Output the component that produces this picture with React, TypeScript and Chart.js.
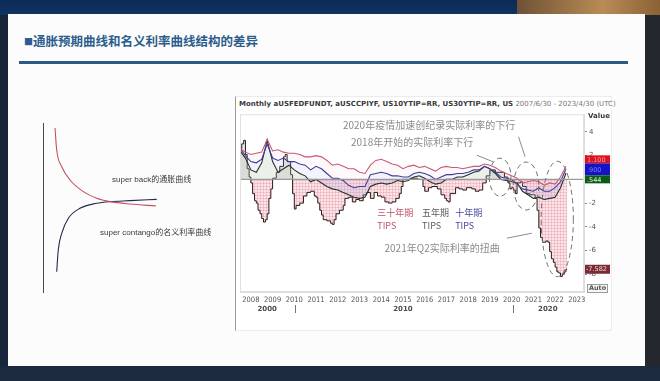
import React, { useEffect, useRef } from "react";
import { Chart, registerables } from "chart.js";

Chart.register(...registerables);

// ---------------- data ----------------
const quarterYears = [
  2007.5, 2007.75,
  2008, 2008.25, 2008.5, 2008.75,
  2009, 2009.25, 2009.5, 2009.75,
  2010, 2010.25, 2010.5, 2010.75,
  2011, 2011.25, 2011.5, 2011.75,
  2012, 2012.25, 2012.5, 2012.75,
  2013, 2013.25, 2013.5, 2013.75,
  2014, 2014.25, 2014.5, 2014.75,
  2015, 2015.25, 2015.5, 2015.75,
  2016, 2016.25, 2016.5, 2016.75,
  2017, 2017.25, 2017.5, 2017.75,
  2018, 2018.25, 2018.5, 2018.75,
  2019, 2019.25, 2019.5, 2019.75,
  2020, 2020.25, 2020.5, 2020.75,
  2021, 2021.25, 2021.5, 2021.75,
  2022, 2022.25, 2022.5,
];

// US30YTIP=RR
const tips30Values = [
  2.6, 2.3,
  2.1, 2.2, 2.3, 3.4,
  2.4, 2.5, 2.3, 2.2,
  2.2, 2.1, 1.9, 1.9,
  2.0, 1.9, 1.6, 1.2,
  1.3, 1.1, 0.9, 0.9,
  0.6, 0.5, 1.2, 1.6,
  1.7, 1.5, 1.3, 1.2,
  0.9, 1.1, 1.2, 1.0,
  1.1, 0.9, 0.7, 1.0,
  1.1, 1.0, 1.0, 0.9,
  1.0, 1.1, 1.1, 1.3,
  1.2, 1.0, 0.7, 0.5,
  0.3, 0.1, -0.3, -0.2,
  -0.1, -0.2, -0.5, -0.3,
  -0.4, 0.2, 1.1,
];

// US10YTIP=RR
const tips10Values = [
  2.6, 2.0,
  1.5, 1.4, 1.7, 3.0,
  1.8, 1.6, 1.8, 1.5,
  1.5, 1.3, 1.2, 0.8,
  1.1, 0.9, 0.5, 0.1,
  0.1, -0.1, -0.5, -0.7,
  -0.6, -0.6, 0.4, 0.5,
  0.6, 0.5, 0.3, 0.3,
  0.2, 0.2, 0.5, 0.6,
  0.5, 0.3, 0.0, 0.2,
  0.4, 0.4, 0.5, 0.5,
  0.6, 0.8, 0.8, 1.1,
  0.9, 0.6, 0.2, 0.1,
  0.0, -0.4, -0.8, -0.9,
  -1.0, -0.7, -1.0, -1.0,
  -0.7, -0.2, 0.9,
];

// US5YTIP=RR
const tips5Values = [
  2.4, 1.8,
  0.8, 0.6, 1.4, 3.3,
  1.5, 0.6, 0.9, 1.2,
  0.8, 0.5, 0.3, -0.2,
  0.0, -0.3, -0.6, -0.8,
  -0.9, -1.1, -1.3, -1.5,
  -1.6, -1.5, -0.6, -0.4,
  -0.3, -0.4, -0.3, -0.1,
  -0.2, -0.1, 0.2, 0.3,
  0.1, -0.2, -0.4, -0.3,
  0.0, 0.0, 0.2, 0.2,
  0.4, 0.6, 0.7, 1.1,
  0.9, 0.5, 0.0, -0.1,
  -0.2, -0.3, -1.0, -1.3,
  -1.6, -1.5, -1.7, -1.6,
  -1.5, -0.7, 0.544,
];

// aUSFEDFUNDT - aUSCCPIYF (real fed funds rate, monthly steps)
const realFedYears = [
  2007.5, 2007.58, 2007.67, 2007.75, 2007.83, 2007.92,
  2008.0, 2008.08, 2008.17, 2008.25, 2008.33, 2008.42, 2008.5, 2008.58, 2008.67, 2008.75, 2008.83, 2008.92,
  2009.0, 2009.17, 2009.33, 2009.5, 2009.58, 2009.67, 2009.83, 2009.92,
  2010.0, 2010.08, 2010.25, 2010.42, 2010.58, 2010.75, 2010.92,
  2011.0, 2011.08, 2011.17, 2011.25, 2011.33, 2011.5, 2011.67, 2011.75, 2011.83, 2011.92,
  2012.08, 2012.25, 2012.33, 2012.5, 2012.67, 2012.83,
  2013.0, 2013.17, 2013.33, 2013.5, 2013.67, 2013.83,
  2014.0, 2014.17, 2014.33, 2014.5, 2014.67, 2014.83, 2014.92,
  2015.0, 2015.33, 2015.67, 2015.92,
  2016.0, 2016.17, 2016.33, 2016.58, 2016.75, 2016.92,
  2017.0, 2017.08, 2017.17, 2017.42, 2017.58, 2017.75, 2017.92,
  2018.17, 2018.33, 2018.5, 2018.67, 2018.83,
  2019.0, 2019.25, 2019.5, 2019.67, 2019.83, 2019.92,
  2020.0, 2020.08, 2020.17, 2020.25, 2020.42, 2020.5, 2020.67, 2020.83,
  2021.0, 2021.08, 2021.17, 2021.25, 2021.33, 2021.42, 2021.58, 2021.67, 2021.75, 2021.83, 2021.92,
  2022.0, 2022.08, 2022.17, 2022.25, 2022.33, 2022.42, 2022.5, 2022.55,
];
const realFedValues = [
  2.6, 3.0, 3.3, 2.1, 0.9, 0.2,
  -0.3, -1.2, -1.8, -2.0, -2.6, -2.9, -3.3, -3.6, -3.4, -2.9, -1.6, -0.8,
  0.1, 0.6, 1.1, 1.9, 2.1, 1.5, 0.4, -1.2,
  -2.5, -2.2, -2.0, -1.4, -1.1, -1.0, -1.4,
  -1.5, -2.0, -2.6, -3.0, -3.4, -3.5, -3.7, -3.8, -3.4, -2.9,
  -2.6, -2.2, -1.6, -1.5, -1.9, -1.7,
  -1.8, -1.3, -1.1, -1.6, -1.1, -1.4,
  -1.5, -1.9, -2.0, -1.9, -1.6, -1.2, -0.6,
  0.0, 0.1, 0.0, -0.6,
  -1.0, -0.7, -0.6, -0.8, -1.3, -1.6,
  -1.8, -1.9, -1.2, -0.7, -0.8, -0.9, -0.7,
  -0.8, -1.0, -0.9, -0.3, 0.3,
  0.8, 0.6, 0.6, 0.2, -0.3, -0.8,
  -0.7, -0.9, -1.2, -0.3, -0.2, -0.6, -1.2, -1.3,
  -1.3, -1.6, -2.6, -4.1, -4.9, -5.3, -5.2, -5.3, -6.1, -6.7, -7.0,
  -7.4, -7.8, -7.9, -8.2, -8.0, -7.8, -7.582, -7.582,
];

const yearTicks = [2008, 2009, 2010, 2011, 2012, 2013, 2014, 2015, 2016, 2017, 2018, 2019, 2020, 2021, 2022, 2023];
const valueTicks = [-8, -6, -4, -2, 0, 2, 4];
const decadeNames = ["2000", "2010", "2020"];
const decadeBreaks = [2010, 2020];

// left schematic curves
const superBackX = [0.96, 1.1, 1.52, 2.21, 3.32, 4.43, 5.54, 7.21, 9.38];
const superBackY = [13.67, 11.83, 10.44, 9.33, 8.36, 7.81, 7.53, 7.33, 7.17];
const superContangoX = [1.1, 1.23, 1.52, 2.07, 3.04, 4.43, 5.54, 7.21, 9.43];
const superContangoY = [1.69, 3.5, 4.89, 6.14, 6.97, 7.39, 7.53, 7.61, 7.72];

// ---------------- annotation layout (data coordinates) ----------------
const noteTexts = [
  { text: "2020年疫情加速创纪录实际利率的下行", year: 2016.2, value: 4.56, size: 10, color: "#8b8b8b" },
  { text: "2018年开始的实际利率下行", year: 2015.42, value: 3.13, size: 10, color: "#8b8b8b" },
  { text: "2021年Q2实际利率的扭曲", year: 2016.8, value: -5.8, size: 10, color: "#8b8b8b" },
];
const seriesNotes = [
  { lines: ["三十年期", "TIPS"], year: 2013.82, value: -2.83, color: "#c4506c" },
  { lines: ["五年期", "TIPS"], year: 2015.88, value: -2.83, color: "#5c5c5c" },
  { lines: ["十年期", "TIPS"], year: 2017.4, value: -2.83, color: "#4848a0" },
];
const noteEllipses = [
  { year: 2019.47, value: 0.19, halfYears: 0.5, halfValue: 1.6 },
  { year: 2020.67, value: -0.56, halfYears: 0.58, halfValue: 2.02 },
  { year: 2022.1, value: -3.34, halfYears: 0.74, halfValue: 4.87 },
];
const noteLeaders = [
  { y1: 2018.4, v1: 2.04, y2: 2019.15, v2: 1.48 },
  { y1: 2020.32, v1: 3.58, y2: 2020.62, v2: 1.9 },
  { y1: 2019.78, v1: -4.96, y2: 2020.93, v2: -4.54 },
];

const CJK = '"Noto Sans CJK SC", "Liberation Sans", sans-serif';
const NARROW = '"Liberation Sans Narrow", "DejaVu Sans Condensed", "Liberation Sans", sans-serif';

const toPts = (xs: number[], ys: number[]) => xs.map((x, i) => ({ x, y: ys[i] }));
const fmt = (v: number) => v.toFixed(3).replace(/^(-?)0\./, "$1.");

function makeHatch(): any {
  const c = document.createElement("canvas");
  c.width = 3;
  c.height = 3;
  const g = c.getContext("2d");
  if (!g) return "#f7d8dd";
  g.fillStyle = "#fbe5e9";
  g.fillRect(0, 0, 3, 3);
  g.fillStyle = "rgba(225,125,145,0.3)";
  g.fillRect(0, 0, 3, 1);
  g.fillRect(0, 0, 1, 3);
  return g.createPattern(c, "repeat") || "#f7d8dd";
}

const mainOverlay = {
  id: "mainOverlay",
  afterDatasetsDraw(chart: any) {
    const { ctx, chartArea: a, scales } = chart;
    const xs = scales.x;
    const ys = scales.y;
    ctx.save();
    // zero line
    const y0 = ys.getPixelForValue(0);
    ctx.strokeStyle = "rgba(150,150,150,0.95)";
    ctx.lineWidth = 1.4;
    ctx.beginPath();
    ctx.moveTo(a.left, y0);
    ctx.lineTo(a.right, y0);
    ctx.stroke();
    // frame
    ctx.strokeStyle = "#e0e0e0";
    ctx.lineWidth = 1;
    ctx.strokeRect(a.left + 0.5, a.top + 0.5, a.right - a.left - 1, a.bottom - a.top - 1);
    // dashed ellipses
    ctx.setLineDash([5, 3.5]);
    ctx.strokeStyle = "#707070";
    ctx.lineWidth = 1;
    for (const e of noteEllipses) {
      const cx = xs.getPixelForValue(e.year);
      const cy = ys.getPixelForValue(e.value);
      const rx = Math.abs(xs.getPixelForValue(e.year + e.halfYears) - cx);
      const ry = Math.abs(ys.getPixelForValue(e.value + e.halfValue) - cy);
      ctx.beginPath();
      ctx.ellipse(cx, cy, rx, ry, 0, 0, Math.PI * 2);
      ctx.stroke();
    }
    ctx.setLineDash([]);
    // leader lines
    ctx.strokeStyle = "#8c8c8c";
    for (const l of noteLeaders) {
      ctx.beginPath();
      ctx.moveTo(xs.getPixelForValue(l.y1), ys.getPixelForValue(l.v1));
      ctx.lineTo(xs.getPixelForValue(l.y2), ys.getPixelForValue(l.v2));
      ctx.stroke();
    }
    // texts
    ctx.textBaseline = "middle";
    ctx.textAlign = "center";
    for (const t of noteTexts) {
      ctx.font = `${t.size}px ${CJK}`;
      ctx.fillStyle = t.color;
      ctx.fillText(t.text, xs.getPixelForValue(t.year), ys.getPixelForValue(t.value));
    }
    ctx.textAlign = "left";
    for (const s of seriesNotes) {
      ctx.font = `9px ${CJK}`;
      ctx.fillStyle = s.color;
      const px = xs.getPixelForValue(s.year);
      const py = ys.getPixelForValue(s.value);
      s.lines.forEach((ln, i) => ctx.fillText(ln, px, py + i * 13));
    }
    ctx.restore();
  },
  afterDraw(chart: any) {
    const { ctx, chartArea: a, scales } = chart;
    const xs = scales.x;
    const ys = scales.y;
    ctx.save();
    // decade row
    const edges = [xs.getPixelForValue(xs.min), ...decadeBreaks.map((d) => xs.getPixelForValue(d)), xs.getPixelForValue(xs.max)];
    ctx.font = `bold 7px "DejaVu Sans", sans-serif`;
    ctx.fillStyle = "#4a4a4a";
    ctx.textAlign = "center";
    ctx.textBaseline = "middle";
    decadeNames.forEach((n, i) => ctx.fillText(n, (edges[i] + edges[i + 1]) / 2, a.bottom + 17));
    ctx.strokeStyle = "#777";
    ctx.lineWidth = 1;
    decadeBreaks.forEach((d) => {
      const px = Math.round(xs.getPixelForValue(d)) + 1.5;
      ctx.beginPath();
      ctx.moveTo(px, a.bottom + 13);
      ctx.lineTo(px, a.bottom + 21);
      ctx.stroke();
    });
    // "Value" heading
    ctx.font = `bold 7px "DejaVu Sans", sans-serif`;
    ctx.fillStyle = "#3a3a3a";
    ctx.textAlign = "left";
    ctx.fillText("Value", a.right + 4, a.top + 2);
    // last value boxes for the TIPS series
    const boxes = [
      { v: tips30Values[tips30Values.length - 1], h: 8, bg: "#e0101e", fg: "#f39a9a" },
      { v: tips10Values[tips10Values.length - 1], h: 12, bg: "#1414c4", fg: "#7a7af2" },
      { v: tips5Values[tips5Values.length - 1], h: 8, bg: "#0b5a16", fg: "#e8f0e8" },
    ];
    const centers = boxes.map((b) => ys.getPixelForValue(b.v));
    const mid = centers.reduce((s, c) => s + c, 0) / centers.length;
    const total = boxes.reduce((s, b) => s + b.h, 0);
    let top = mid - total / 2;
    const bx = a.right + 1;
    const bw = 25;
    ctx.font = `6.5px "DejaVu Sans", sans-serif`;
    for (const b of boxes) {
      ctx.fillStyle = b.bg;
      ctx.fillRect(bx, top, bw, b.h);
      ctx.fillStyle = b.fg;
      ctx.fillText(fmt(b.v), bx + 2, top + b.h / 2 + 0.5);
      top += b.h;
    }
    // real fed funds last value
    const lastReal = realFedValues[realFedValues.length - 1];
    const ry = ys.getPixelForValue(lastReal);
    ctx.fillStyle = "#7a2b33";
    ctx.fillRect(bx, ry - 4.5, bw, 9);
    ctx.fillStyle = "#f4dede";
    ctx.fillText(lastReal.toFixed(3), bx + 1, ry + 0.5);
    // Auto button
    ctx.fillStyle = "#f6f6f6";
    ctx.fillRect(a.right + 3, a.bottom - 8, 20, 8);
    ctx.strokeStyle = "#9a9a9a";
    ctx.strokeRect(a.right + 3.5, a.bottom - 7.5, 20, 8);
    ctx.fillStyle = "#555";
    ctx.font = `bold 6.5px "DejaVu Sans", sans-serif`;
    ctx.textAlign = "center";
    ctx.fillText("Auto", a.right + 13.5, a.bottom - 3.5);
    ctx.restore();
  },
};

const leftLabels = {
  id: "leftLabels",
  afterDraw(chart: any) {
    const { ctx, scales } = chart;
    ctx.save();
    ctx.font = `8px "Liberation Sans", "Noto Sans CJK SC", sans-serif`;
    ctx.fillStyle = "#3a3a3a";
    ctx.textAlign = "left";
    ctx.textBaseline = "middle";
    ctx.fillText("super back的通胀曲线", scales.x.getPixelForValue(5.71), scales.y.getPixelForValue(9.33));
    ctx.fillText("super contango的名义利率曲线", scales.x.getPixelForValue(4.71), scales.y.getPixelForValue(4.92));
    ctx.restore();
  },
};

export default function App() {
  const mainRef = useRef<HTMLCanvasElement>(null);
  const leftRef = useRef<HTMLCanvasElement>(null);

  useEffect(() => {
    if (!mainRef.current || !leftRef.current) return;
    const hatch = makeHatch();
    const main = new Chart(mainRef.current, {
      type: "line",
      data: {
        datasets: [
          {
            label: "US30YTIP=RR",
            data: toPts(quarterYears, tips30Values),
            borderColor: "#c85a74",
            borderWidth: 1.1,
            pointRadius: 0,
            fill: { target: 1, above: "rgba(235,170,185,0.08)", below: "rgba(235,170,185,0.08)" },
            order: 1,
          },
          {
            label: "US10YTIP=RR",
            data: toPts(quarterYears, tips10Values),
            borderColor: "#3a3a98",
            borderWidth: 1.1,
            pointRadius: 0,
            fill: { target: 2, above: "rgba(150,160,230,0.12)", below: "rgba(150,160,230,0.12)" },
            order: 2,
          },
          {
            label: "US5YTIP=RR",
            data: toPts(quarterYears, tips5Values),
            borderColor: "#1e2c1e",
            borderWidth: 1.1,
            pointRadius: 0,
            fill: { target: "origin", above: "rgba(175,195,175,0.25)", below: "rgba(160,170,220,0.08)" },
            order: 3,
          },
          {
            label: "aUSFEDFUNDT-aUSCCPIYF",
            data: toPts(realFedYears, realFedValues),
            stepped: true,
            borderColor: "#2a1c1c",
            borderWidth: 1,
            pointRadius: 0,
            fill: { target: "origin", above: "rgba(205,210,200,0.5)", below: hatch },
            order: 4,
          },
        ] as any,
      },
      options: {
        responsive: false,
        animation: false,
        layout: { padding: { left: 4, top: 6, right: 0, bottom: 0 } },
        plugins: { legend: { display: false }, tooltip: { enabled: false } },
        scales: {
          x: {
            type: "linear",
            min: 2007.5,
            max: 2023.33,
            afterBuildTicks: (s: any) => {
              s.ticks = yearTicks.map((v) => ({ value: v }));
            },
            afterFit: (s: any) => {
              s.height = 40;
            },
            grid: { display: false, drawTicks: false },
            border: { display: true, color: "#dcdcdc" },
            ticks: {
              autoSkip: false,
              maxRotation: 0,
              padding: 4,
              color: "#555",
              font: { family: NARROW, size: 7.5 },
              callback: (v: any) => String(v),
            },
          },
          y: {
            type: "linear",
            position: "right",
            min: -9.5,
            max: 5.5,
            afterBuildTicks: (s: any) => {
              s.ticks = valueTicks.map((v) => ({ value: v }));
            },
            afterFit: (s: any) => {
              s.width = 28;
            },
            grid: { display: true, drawOnChartArea: false, drawTicks: true, tickLength: 3, color: "#888" },
            border: { display: true, color: "#dcdcdc" },
            ticks: {
              padding: 2,
              color: "#555",
              font: { family: '"DejaVu Sans", sans-serif', size: 7 },
              callback: (v: any) => String(v),
            },
          },
        },
      } as any,
      plugins: [mainOverlay],
    });

    const left = new Chart(leftRef.current, {
      type: "line",
      data: {
        datasets: [
          {
            label: "super back",
            data: toPts(superBackX, superBackY),
            borderColor: "#c4505e",
            borderWidth: 1.1,
            pointRadius: 0,
            cubicInterpolationMode: "monotone",
            fill: false,
          },
          {
            label: "super contango",
            data: toPts(superContangoX, superContangoY),
            borderColor: "#26284f",
            borderWidth: 1.1,
            pointRadius: 0,
            cubicInterpolationMode: "monotone",
            fill: false,
          },
        ] as any,
      },
      options: {
        responsive: false,
        animation: false,
        layout: { padding: { left: 13.5, top: 13, right: 6.5, bottom: 13 } },
        plugins: { legend: { display: false }, tooltip: { enabled: false } },
        scales: {
          x: { type: "linear", min: 0, max: 15, display: false },
          y: {
            type: "linear",
            min: 0,
            max: 14.08,
            grid: { display: false, drawTicks: false },
            ticks: { display: false },
            border: { display: true, color: "#4a4a4a", width: 1 },
            afterFit: (s: any) => {
              s.width = 0;
            },
          },
        },
      } as any,
      plugins: [leftLabels],
    });

    return () => {
      main.destroy();
      left.destroy();
    };
  }, []);

  return (
    <div
      style={{
        position: "fixed",
        left: 0,
        top: 0,
        width: 660,
        height: 381,
        overflow: "hidden",
        background: "#18263b",
      }}
    >
      <div style={{ position: "absolute", left: 0, top: 0, width: 660, height: 15, background: "linear-gradient(180deg,#0c2a55,#113463)" }} />
      <div style={{ position: "absolute", left: 517, top: 0, width: 143, height: 15, background: "linear-gradient(90deg,#6e5236,#b98b55 60%,#8a6236)" }} />
      <div style={{ position: "absolute", left: 645, top: 15, width: 15, height: 366, background: "#24272e" }} />
      <div style={{ position: "absolute", left: 0, top: 366, width: 660, height: 15, background: "#1c2a3e" }} />
      <div style={{ position: "absolute", left: 8, top: 14, width: 637, height: 352, background: "#fcfcfc" }} />

      <div
        style={{
          position: "absolute",
          left: 24,
          top: 32,
          fontFamily: CJK,
          fontWeight: 700,
          fontSize: 12.5,
          lineHeight: "18px",
          color: "#2d5d8d",
          whiteSpace: "nowrap",
        }}
      >
        <span style={{ fontSize: 9, verticalAlign: "1px" }}>■</span>通胀预期曲线和名义利率曲线结构的差异
      </div>
      <div style={{ position: "absolute", left: 19, top: 61, width: 609, height: 3, background: "#2c5a87" }} />

      <div style={{ position: "absolute", left: 30, top: 110, width: 200, height: 195 }}>
        <canvas ref={leftRef} width={200} height={195} />
      </div>

      <div
        style={{
          position: "absolute",
          left: 235,
          top: 96,
          width: 377,
          height: 235,
          boxSizing: "border-box",
          background: "#ffffff",
          borderLeft: "1px solid #9a9a9a",
          borderTop: "1px solid #ececec",
          borderRight: "1px solid #ececec",
          borderBottom: "1px solid #ececec",
        }}
      />
      <div
        style={{
          position: "absolute",
          left: 239,
          top: 99,
          fontFamily: '"DejaVu Sans", sans-serif',
          fontSize: 7,
          lineHeight: "10px",
          whiteSpace: "nowrap",
        }}
      >
        <span style={{ fontWeight: 700, color: "#3a3a3a" }}>Monthly aUSFEDFUNDT, aUSCCPIYF, US10YTIP=RR, US30YTIP=RR, US</span>
        <span style={{ color: "#777" }}> 2007/6/30 - 2023/4/30 (UTC)</span>
      </div>
      <div style={{ position: "absolute", left: 236, top: 108, width: 376, height: 224 }}>
        <canvas ref={mainRef} width={376} height={224} />
      </div>
    </div>
  );
}
